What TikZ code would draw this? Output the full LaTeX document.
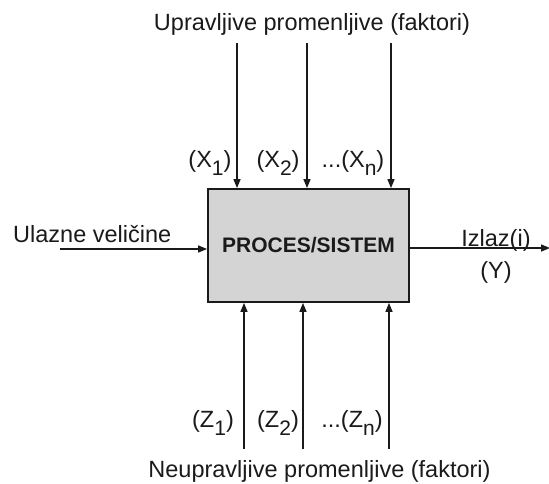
\documentclass[tikz,border=0pt]{standalone}
\usepackage{fontspec}
\setmainfont{Liberation Sans}
\usetikzlibrary{arrows.meta}
\definecolor{boxgray}{HTML}{D4D4D4}
\definecolor{ink}{HTML}{1A1A1A}
% large, well-lowered index digit
\newcommand{\idx}[1]{\raisebox{-8pt}{\fontsize{21}{23}\selectfont #1}}
\tikzset{
  flow/.style={draw=ink, line width=1.4pt, -{Triangle[length=9pt,width=7pt]}},
  lbl/.style={font=\fontsize{23.5}{26}\selectfont, text=ink, inner sep=0pt, anchor=base},
  sysbox/.style={draw=ink, line width=1.8pt, fill=boxgray, minimum width=201pt, minimum height=113pt, inner sep=0pt,
    font=\fontsize{21}{24}\bfseries\selectfont, text=ink}
}
\begin{document}
\begin{tikzpicture}[x=1pt,y=-1pt]
\useasboundingbox (0,0) rectangle (549,483);
% central process block
\node[sysbox] (sys) at (308.5,245.5) {PROCES/SISTEM};
% controllable inputs
\coordinate (x1s) at (237,43);
\coordinate (x2s) at (307,43);
\coordinate (xns) at (391,43);
\draw[flow] (x1s) -- (x1s |- sys.north);
\draw[flow] (x2s) -- (x2s |- sys.north);
\draw[flow] (xns) -- (xns |- sys.north);
% uncontrollable inputs
\coordinate (z1s) at (244,449);
\coordinate (z2s) at (303,449);
\coordinate (zns) at (389,449);
\draw[flow] (z1s) -- (z1s |- sys.south);
\draw[flow] (z2s) -- (z2s |- sys.south);
\draw[flow] (zns) -- (zns |- sys.south);
% input and output
\coordinate (ins) at (60,249);
\coordinate (oute) at (550,248);
\draw[flow] (ins) -- (ins -| sys.west);
\draw[flow] (sys.east |- oute) -- (oute);
% labels
\node[lbl] (ttop) at (312,30) {Upravljive promenljive (faktori)};
\node[lbl] (tbot) at (319.5,477) {Neupravljive promenljive (faktori)};
\node[lbl, anchor=base west] (tin) at (13,242) {Ulazne veličine};
\node[lbl] (tout) at (496,246) {Izlaz(i)};
\node[lbl] (ty) at (496,278) {(Y)};
\node[lbl] (lx1) at (210,167) {(X\idx{1})};
\node[lbl] (lx2) at (278,167) {(X\idx{2})};
\node[lbl] (lxn) at (353,167) {...(X\idx{n})};
\node[lbl] (lz1) at (213,427) {(Z\idx{1})};
\node[lbl] (lz2) at (278,427) {(Z\idx{2})};
\node[lbl] (lzn) at (352,427) {...(Z\idx{n})};
\end{tikzpicture}
\end{document}
